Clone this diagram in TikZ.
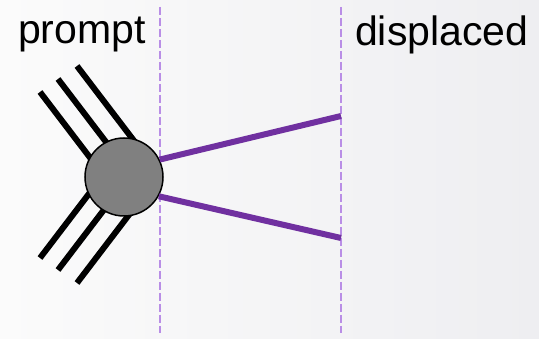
\documentclass[tikz,border=0pt]{standalone}
\usepackage{fontspec}
\setmainfont{Liberation Sans}
\begin{document}
\begin{tikzpicture}[x=1pt,y=-1pt,
  divider/.style={draw=lightpurple,line width=1.2pt,dash pattern=on 8pt off 3pt},
  jet/.style={line width=6pt,black},
  track/.style={line width=6pt,trackpurple},
  label/.style={font=\fontsize{41}{41}\selectfont,anchor=base west,inner sep=0pt},
  vertex/.style={circle,draw=black,line width=1.5pt,fill=vtxgray,minimum size=78pt,inner sep=0pt}]
\definecolor{lightpurple}{HTML}{B98EE6}
\definecolor{trackpurple}{HTML}{7030A0}
\definecolor{vtxgray}{HTML}{808080}
\definecolor{bgleft}{HTML}{FBFBFB}
\definecolor{bgright}{HTML}{EEEEF1}
% background with a soft left-to-right fade
\useasboundingbox (0,0) rectangle (539,339);
\shade[left color=bgleft,right color=bgright] (0,0) rectangle (539,339);
% region dividers
\coordinate (d1t) at (160,7);  \coordinate (d1b) at (160,333);
\coordinate (d2t) at (341,7);  \coordinate (d2b) at (341,333);
\draw[divider] (d1t) -- (d1b);
\draw[divider] (d2t) -- (d2b);
% labels
\node[label] (prompt) at (18,44) {prompt};
\node[label] (displaced) at (355,46) {displaced};
% prompt jets (end inside the vertex blob)
\coordinate (ja) at (40,92);   \coordinate (jae) at (100.6,171.5);
\coordinate (jb) at (58,79);   \coordinate (jbe) at (118.6,158.5);
\coordinate (jc) at (77,66);   \coordinate (jce) at (137.6,145.5);
\coordinate (jd) at (40,258);  \coordinate (jde) at (100.6,178.5);
\coordinate (je) at (58,270);  \coordinate (jee) at (118.6,190.5);
\coordinate (jf) at (77,283);  \coordinate (jfe) at (137.6,203.5);
\foreach \s in {a,b,c,d,e,f} \draw[jet] (j\s) -- (j\s e);
% vertex
\node[vertex] (vtx) at (124,177) {};
% displaced tracks
\coordinate (t1) at (341,116);
\coordinate (t2) at (341,238);
\draw[track] (vtx.26) -- (t1);
\draw[track] (vtx.-29) -- (t2);
\end{tikzpicture}
\end{document}
